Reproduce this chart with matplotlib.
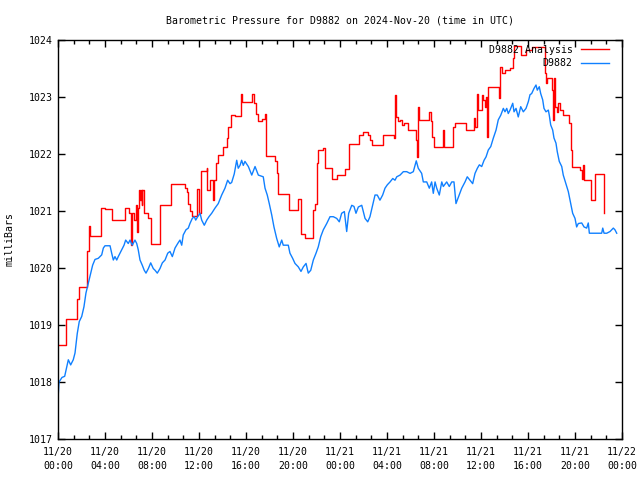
import numpy as np
import pandas as pd
import matplotlib
matplotlib.use('Agg')
import matplotlib.pyplot as plt
from matplotlib.ticker import MultipleLocator, FuncFormatter

# hours since 2024-11-20 00:00 UTC, pressure in mbar
analysis_hours = [0.00, 0.68, 1.64, 1.79, 2.50, 2.62, 2.72, 3.66, 4.00, 4.62,
                  5.70, 6.02, 6.21, 6.30, 6.47, 6.60, 6.75, 6.85, 6.92, 7.02,
                  7.06, 7.15, 7.19, 7.34, 7.69, 7.89, 8.71, 9.62, 10.77, 10.95,
                  11.09, 11.23, 11.38, 11.87, 12.03, 12.13, 12.66, 12.71, 12.94, 13.19,
                  13.25, 13.42, 13.64, 14.07, 14.36, 14.49, 14.72, 15.06, 15.57, 15.69,
                  16.49, 16.68, 16.85, 17.05, 17.34, 17.62, 17.70, 18.47, 18.61, 18.75,
                  19.69, 20.40, 20.68, 21.02, 21.73, 21.87, 22.02, 22.15, 22.58, 22.72,
                  23.34, 23.72, 24.43, 24.74, 25.64, 25.98, 26.41, 26.55, 26.70, 27.69,
                  28.60, 28.68, 28.77, 28.96, 29.11, 29.25, 29.45, 29.81, 30.47, 30.53,
                  30.66, 30.74, 31.60, 31.74, 31.86, 32.03, 32.74, 32.85, 33.64, 33.79,
                  34.70, 35.40, 35.49, 35.63, 35.72, 36.06, 36.20, 36.34, 36.43, 36.54,
                  36.62, 37.56, 37.62, 37.76, 38.04, 38.47, 38.70, 38.81, 39.40, 39.83,
                  40.31, 41.45, 41.53, 41.64, 42.07, 42.15, 42.21, 42.30, 42.44, 42.58,
                  42.72, 43.00, 43.52, 43.63, 43.74, 44.43, 44.57, 44.66, 44.77, 45.34,
                  45.70, 46.47]
analysis_mb = [1018.65, 1019.10, 1019.45, 1019.66, 1020.29, 1020.74, 1020.56, 1021.06, 1021.03, 1020.85,
               1021.06, 1020.96, 1020.40, 1020.96, 1020.85, 1021.10, 1020.64, 1021.05, 1021.37, 1021.20,
               1021.37, 1021.10, 1021.37, 1020.97, 1020.87, 1020.42, 1021.10, 1021.47, 1021.40, 1021.34,
               1021.13, 1021.00, 1020.91, 1021.38, 1020.96, 1021.71, 1021.75, 1021.37, 1021.54, 1021.19,
               1021.54, 1021.84, 1021.98, 1022.13, 1022.28, 1022.48, 1022.68, 1022.67, 1023.06, 1022.92,
               1023.05, 1022.89, 1022.71, 1022.58, 1022.61, 1022.70, 1021.96, 1021.87, 1021.66, 1021.30,
               1021.02, 1021.21, 1020.60, 1020.52, 1021.02, 1021.13, 1021.84, 1022.07, 1022.10, 1021.75,
               1021.57, 1021.63, 1021.73, 1022.18, 1022.33, 1022.38, 1022.33, 1022.25, 1022.16, 1022.33,
               1022.28, 1023.04, 1022.65, 1022.57, 1022.60, 1022.51, 1022.55, 1022.42, 1022.25, 1021.95,
               1022.83, 1022.60, 1022.74, 1022.57, 1022.30, 1022.13, 1022.42, 1022.12, 1022.48, 1022.54,
               1022.42, 1022.63, 1022.48, 1023.06, 1022.77, 1023.04, 1022.95, 1022.83, 1023.00, 1022.30,
               1023.18, 1022.98, 1023.53, 1023.42, 1023.47, 1023.50, 1023.68, 1023.90, 1023.74, 1023.82,
               1023.87, 1023.42, 1023.24, 1023.33, 1023.12, 1022.60, 1023.33, 1022.83, 1022.74, 1022.90,
               1022.77, 1022.68, 1022.54, 1022.07, 1021.78, 1021.72, 1021.57, 1021.81, 1021.54, 1021.19,
               1021.65, 1020.97]

station_hours = [0.00, 0.09, 0.34, 0.57, 0.68, 0.88, 1.08, 1.30, 1.45, 1.64,
                 1.81, 2.02, 2.21, 2.38, 2.58, 2.78, 2.95, 3.15, 3.43, 3.72,
                 3.86, 4.00, 4.43, 4.57, 4.71, 4.85, 5.00, 5.13, 5.42, 5.62,
                 5.76, 5.98, 6.13, 6.32, 6.55, 6.70, 6.83, 6.98, 7.17, 7.34,
                 7.49, 7.69, 7.89, 8.11, 8.26, 8.45, 8.68, 8.88, 9.11, 9.34,
                 9.53, 9.73, 9.96, 10.19, 10.38, 10.53, 10.66, 10.89, 11.09, 11.23,
                 11.43, 11.60, 11.72, 11.89, 12.09, 12.23, 12.45, 12.66, 12.85, 13.08,
                 13.36, 13.64, 13.93, 14.21, 14.44, 14.64, 14.78, 15.00, 15.21, 15.34,
                 15.49, 15.63, 15.77, 15.91, 16.20, 16.49, 16.77, 17.05, 17.47, 17.62,
                 17.81, 17.98, 18.19, 18.38, 18.61, 18.83, 19.04, 19.17, 19.60, 19.74,
                 19.97, 20.17, 20.45, 20.68, 20.88, 21.11, 21.30, 21.51, 21.73, 21.96,
                 22.15, 22.36, 22.58, 22.87, 23.15, 23.43, 23.72, 23.94, 24.14, 24.37,
                 24.57, 24.74, 25.00, 25.19, 25.36, 25.56, 25.85, 26.13, 26.36, 26.55,
                 26.78, 26.98, 27.17, 27.40, 27.63, 27.83, 28.03, 28.26, 28.49, 28.68,
                 28.83, 29.11, 29.39, 29.68, 29.96, 30.24, 30.49, 30.66, 30.95, 31.09,
                 31.38, 31.60, 31.80, 31.94, 32.09, 32.23, 32.45, 32.66, 32.79, 33.08,
                 33.30, 33.51, 33.70, 33.87, 33.98, 34.15, 34.36, 34.64, 34.83, 35.06,
                 35.29, 35.49, 35.69, 35.86, 36.06, 36.26, 36.43, 36.62, 36.83, 37.05,
                 37.28, 37.47, 37.68, 37.90, 38.04, 38.19, 38.32, 38.47, 38.70, 38.81,
                 38.98, 39.17, 39.38, 39.60, 39.83, 40.03, 40.17, 40.31, 40.51, 40.68,
                 40.79, 40.96, 41.08, 41.25, 41.36, 41.53, 41.73, 41.81, 41.93, 42.10,
                 42.21, 42.38, 42.49, 42.66, 42.87, 43.00, 43.21, 43.43, 43.63, 43.80,
                 44.00, 44.14, 44.28, 44.57, 44.77, 44.99, 45.13, 45.22, 46.27, 46.36,
                 46.47, 46.70, 46.98, 47.26, 47.40, 47.55]
station_mb = [1017.70, 1018.00, 1018.08, 1018.10, 1018.20, 1018.39, 1018.30, 1018.39, 1018.51, 1018.85,
              1019.06, 1019.15, 1019.32, 1019.56, 1019.73, 1019.90, 1020.05, 1020.15, 1020.17, 1020.23,
              1020.35, 1020.39, 1020.39, 1020.26, 1020.14, 1020.20, 1020.14, 1020.20, 1020.32, 1020.40,
              1020.49, 1020.43, 1020.49, 1020.40, 1020.49, 1020.43, 1020.32, 1020.14, 1020.05, 1019.96,
              1019.91, 1019.99, 1020.09, 1019.99, 1019.96, 1019.91, 1019.99, 1020.09, 1020.14, 1020.26,
              1020.29, 1020.20, 1020.35, 1020.43, 1020.49, 1020.40, 1020.58, 1020.67, 1020.70, 1020.78,
              1020.87, 1020.90, 1020.84, 1020.90, 1020.96, 1020.84, 1020.75, 1020.84, 1020.90, 1020.96,
              1021.05, 1021.13, 1021.28, 1021.40, 1021.54, 1021.48, 1021.50, 1021.65, 1021.89, 1021.75,
              1021.80, 1021.89, 1021.80, 1021.87, 1021.78, 1021.63, 1021.78, 1021.63, 1021.60, 1021.40,
              1021.28, 1021.13, 1020.93, 1020.72, 1020.52, 1020.37, 1020.49, 1020.40, 1020.40, 1020.26,
              1020.17, 1020.08, 1020.02, 1019.94, 1020.02, 1020.08, 1019.91, 1019.96, 1020.14, 1020.26,
              1020.37, 1020.55, 1020.67, 1020.78, 1020.90, 1020.90, 1020.87, 1020.81, 1020.96, 1020.99,
              1020.64, 1020.96, 1021.10, 1021.08, 1020.96, 1021.07, 1021.10, 1020.87, 1020.81, 1020.90,
              1021.10, 1021.28, 1021.28, 1021.19, 1021.28, 1021.40, 1021.46, 1021.51, 1021.57, 1021.54,
              1021.60, 1021.63, 1021.69, 1021.69, 1021.66, 1021.69, 1021.88, 1021.75, 1021.66, 1021.51,
              1021.51, 1021.40, 1021.51, 1021.31, 1021.51, 1021.40, 1021.28, 1021.51, 1021.43, 1021.51,
              1021.43, 1021.51, 1021.51, 1021.13, 1021.19, 1021.28, 1021.40, 1021.51, 1021.60, 1021.54,
              1021.48, 1021.66, 1021.75, 1021.81, 1021.78, 1021.89, 1021.95, 1022.07, 1022.13, 1022.28,
              1022.42, 1022.60, 1022.68, 1022.80, 1022.74, 1022.80, 1022.71, 1022.77, 1022.89, 1022.74,
              1022.80, 1022.65, 1022.83, 1022.74, 1022.80, 1022.92, 1023.04, 1023.06, 1023.15, 1023.21,
              1023.12, 1023.18, 1023.06, 1022.95, 1022.80, 1022.74, 1022.77, 1022.68, 1022.51, 1022.42,
              1022.28, 1022.19, 1022.04, 1021.87, 1021.78, 1021.63, 1021.49, 1021.34, 1021.13, 1020.96,
              1020.87, 1020.72, 1020.78, 1020.79, 1020.72, 1020.70, 1020.79, 1020.61, 1020.61, 1020.70,
              1020.61, 1020.61, 1020.64, 1020.70, 1020.67, 1020.61]

start = pd.Timestamp('2024-11-20 00:00')
font = 'DejaVu Sans Mono'
fs = 7.1

fig = plt.figure(figsize=(6.4, 4.8), dpi=100)
ax = fig.add_axes([0.0906, 0.0854, 0.8813, 0.8313])

ax.plot(analysis_hours, analysis_mb, color='#ff0000', lw=1.0, drawstyle='steps-post',
        label='D9882 Analysis')
ax.plot(station_hours, station_mb, color='#1080ff', lw=1.0, label='D9882')

ax.set_xlim(0, 48)
ax.set_ylim(1017, 1024)

def fmt_time(h, pos):
    t = start + pd.Timedelta(hours=h)
    return t.strftime('%m/%d\n%H:%M')

ax.xaxis.set_major_locator(MultipleLocator(4))
ax.xaxis.set_minor_locator(MultipleLocator(4 / 3))
ax.xaxis.set_major_formatter(FuncFormatter(fmt_time))
ax.yaxis.set_major_locator(MultipleLocator(1))

ax.tick_params(which='both', direction='in', top=True, right=True, width=1, color='black')
ax.tick_params(which='major', length=5)
ax.tick_params(which='minor', length=3)
ax.tick_params(axis='x', pad=6)
ax.tick_params(axis='y', pad=4)
for lab in ax.get_xticklabels() + ax.get_yticklabels():
    lab.set_fontfamily(font)
    lab.set_fontsize(fs)
for lab in ax.get_xticklabels():
    lab.set_linespacing(1.5)
for sp in ax.spines.values():
    sp.set_linewidth(1)

ax.set_title('Barometric Pressure for D9882 on 2024-Nov-20 (time in UTC)',
             fontfamily=font, fontsize=fs, pad=12)
ax.set_ylabel('milliBars', fontfamily=font, fontsize=fs, labelpad=10)

ax.legend(loc='upper right', bbox_to_anchor=(1 - 6 / 564, 1 + 2 / 399),
          frameon=False, markerfirst=False,
          prop={'family': font, 'size': fs}, handlelength=2.9,
          handletextpad=0.8, labelspacing=0.35, borderaxespad=0.3)

fig.savefig('out.png', dpi=100)
